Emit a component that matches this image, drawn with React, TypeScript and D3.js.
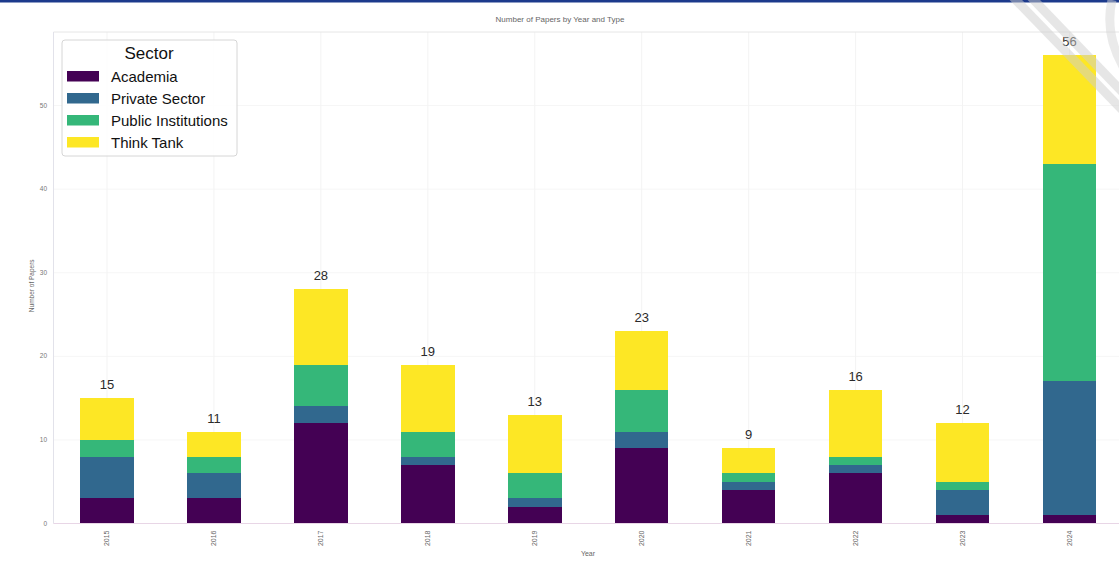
import React from "react";
import * as d3 from "d3";

const years = ["2015", "2016", "2017", "2018", "2019", "2020", "2021", "2022", "2023", "2024"];
const sectors = ["Academia", "Private Sector", "Public Institutions", "Think Tank"];
const academia = [3, 3, 12, 7, 2, 9, 4, 6, 1, 1];
const privateSector = [5, 3, 2, 1, 1, 2, 1, 1, 3, 16];
const publicInstitutions = [2, 2, 5, 3, 3, 5, 1, 1, 1, 26];
const thinkTank = [5, 3, 9, 8, 7, 7, 3, 8, 7, 13];
const yTicks = [0, 10, 20, 30, 40, 50];
const colors = ["#440154", "#31688e", "#35b779", "#fde725"];

const W = 1119;
const H = 581;
const plot = { left: 53.5, right: 1123, top: 32, bottom: 523.5 };

export default function App() {
  const rows = years.map((y, i) => ({
    year: y,
    Academia: academia[i],
    "Private Sector": privateSector[i],
    "Public Institutions": publicInstitutions[i],
    "Think Tank": thinkTank[i],
  }));
  const stacked = d3.stack<any>().keys(sectors)(rows);
  const totals = rows.map((r) => sectors.reduce((s, k) => s + (r as any)[k], 0));
  const maxT = d3.max(totals) as number;

  const x = d3.scaleBand().domain(years).range([plot.left, plot.right]).paddingInner(0.5).paddingOuter(0.25);
  const y = d3.scaleLinear().domain([0, maxT * 1.05]).range([plot.bottom, plot.top]);
  const font = "'Liberation Sans', Arial, 'DejaVu Sans', sans-serif";

  return (
    <div style={{ position: "fixed", left: 0, top: 0 }}>
      <svg width={W} height={H} style={{ display: "block", background: "#fff" }} fontFamily={font}>
        <rect x={0} y={0} width={W} height={2.5} fill="#1c3a8c" />
        {/* gridlines */}
        {yTicks.map((t) => (
          <line key={"gy" + t} x1={plot.left} x2={plot.right} y1={y(t)} y2={y(t)} stroke="#f6f6f6" strokeWidth={1} />
        ))}
        {years.map((yr) => (
          <line key={"gx" + yr} x1={(x(yr) as number) + x.bandwidth() / 2} x2={(x(yr) as number) + x.bandwidth() / 2} y1={plot.top} y2={plot.bottom} stroke="#f3f3f3" strokeWidth={1} />
        ))}
        <line x1={plot.left} x2={plot.right} y1={plot.top} y2={plot.top} stroke="#e6e6e6" strokeWidth={1} />
        <line x1={plot.left} x2={plot.left} y1={plot.top} y2={plot.bottom} stroke="#e2e2ea" strokeWidth={1} />
        {/* bars */}
        {stacked.map((layer, li) => (
          <g key={layer.key} fill={colors[li]} shapeRendering="crispEdges">
            {layer.map((d, i) => (
              <rect key={i} x={x(years[i]) as number} width={x.bandwidth()} y={y(d[1])} height={y(d[0]) - y(d[1])} />
            ))}
          </g>
        ))}
        <line x1={plot.left} x2={plot.right} y1={plot.bottom} y2={plot.bottom} stroke="#e8d6e6" strokeWidth={1} />
        {/* totals */}
        {totals.map((t, i) => (
          <text key={"t" + i} x={(x(years[i]) as number) + x.bandwidth() / 2} y={y(t) - 9} textAnchor="middle" fontSize={13} fill="#2a2a2a">
            {t}
          </text>
        ))}
        {/* y ticks */}
        {yTicks.map((t) => (
          <text key={"yt" + t} x={47} y={y(t) + 2} textAnchor="end" fontSize={6.5} fill="#777">
            {t}
          </text>
        ))}
        {/* x ticks */}
        {years.map((yr) => {
          const cx = (x(yr) as number) + x.bandwidth() / 2;
          return (
            <text key={"xt" + yr} transform={`translate(${cx + 2.5},${plot.bottom + 7}) rotate(-90)`} textAnchor="end" fontSize={7} fill="#666">
              {yr}
            </text>
          );
        })}
        <text x={588} y={556} textAnchor="middle" fontSize={7} fill="#666">Year</text>
        <text transform={`translate(34,${(plot.top + plot.bottom) / 2 + 8}) rotate(-90)`} textAnchor="middle" fontSize={6.5} fill="#666">
          Number of Papers
        </text>
        <text x={560} y={22} textAnchor="middle" fontSize={8} fill="#666">
          Number of Papers by Year and Type
        </text>
        {/* legend */}
        <g>
          <rect x={62} y={40} width={175} height={116} rx={3} fill="#fff" fillOpacity={0.85} stroke="#d6d6d6" strokeWidth={1} />
          <text x={149} y={59} textAnchor="middle" fontSize={17} fill="#111">Sector</text>
          {sectors.map((s, i) => (
            <g key={s}>
              <rect x={67} y={71 + i * 22} width={32} height={10.5} fill={colors[i]} />
              <text x={111} y={81.5 + i * 22} fontSize={15} fill="#111">{s}</text>
            </g>
          ))}
        </g>
        {/* watermark stripes */}
        <g opacity={0.5}>
          <line x1={1012} y1={-4} x2={1130} y2={118} stroke="#cfcfcf" strokeWidth={9} />
          <line x1={1030} y1={-4} x2={1130} y2={100} stroke="#cfcfcf" strokeWidth={9} />
          <path d="M1112,0 Q1104,35 1125,70" fill="none" stroke="#d6d6d6" strokeWidth={9} />
        </g>
      </svg>
    </div>
  );
}
